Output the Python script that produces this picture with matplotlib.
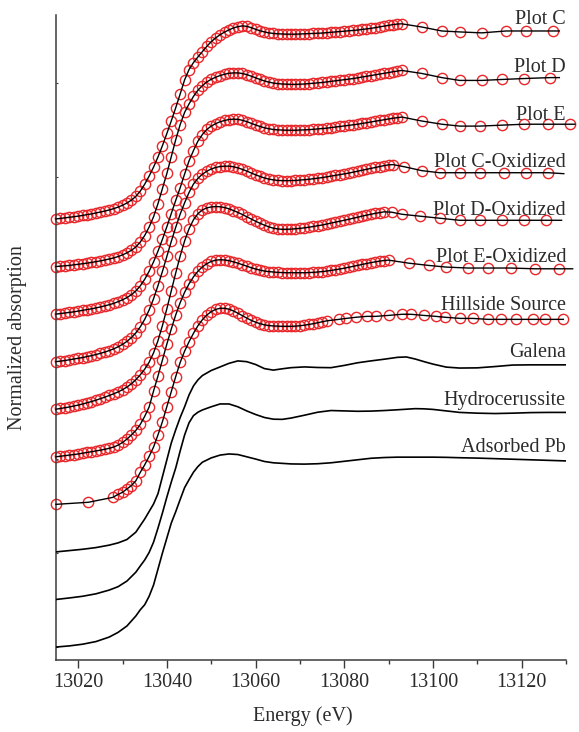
import numpy as np
import matplotlib
matplotlib.use("Agg")
import matplotlib.pyplot as plt
from matplotlib.ticker import MultipleLocator, NullFormatter

# ---------------- data ----------------
labels = ["Plot C", "Plot D", "Plot E", "Plot C-Oxidized", "Plot D-Oxidized",
          "Plot E-Oxidized", "Hillside Source", "Galena", "Hydrocerussite", "Adsorbed Pb"]
offsets = [2.277, 2.024, 1.771, 1.518, 1.265, 1.012, 0.759, 0.506, 0.253, 0.0]

# sample spectra (fit points shown as circles): dense part at 1 eV steps, then sparse tail
c_start = 13015
c_dense = [0.000, 0.003, 0.006, 0.009, 0.012, 0.015, 0.019, 0.023, 0.027, 0.032,
           0.037, 0.042, 0.048, 0.055, 0.063, 0.073, 0.085, 0.100, 0.120, 0.148,
           0.185, 0.228, 0.276, 0.330, 0.390, 0.455, 0.522, 0.592, 0.665, 0.740,
           0.795, 0.832, 0.862, 0.890, 0.918, 0.943, 0.963, 0.980, 0.994, 1.006,
           1.016, 1.023, 1.027, 1.025, 1.018, 1.009, 1.001, 0.995, 0.990, 0.987,
           0.985, 0.984, 0.983, 0.983, 0.983, 0.984, 0.985, 0.986, 0.987, 0.988,
           0.989, 0.991, 0.993, 0.995, 0.997, 0.999, 1.001, 1.003, 1.005, 1.008,
           1.011, 1.014, 1.018, 1.022, 1.026, 1.030, 1.034, 1.037, 1.038]
c_tail_e = [13097.5, 13102, 13106, 13111, 13116.5, 13121, 13127]
c_tail_v = [1.021, 1.000, 0.995, 0.990, 1.000, 1.000, 1.000]
c_end = (13128.5, 1.000)

d_start = 13015
d_dense = [0.000, 0.002, 0.004, 0.006, 0.009, 0.012, 0.015, 0.018, 0.022, 0.026,
           0.030, 0.035, 0.040, 0.046, 0.053, 0.062, 0.073, 0.086, 0.104, 0.130,
           0.165, 0.210, 0.265, 0.335, 0.415, 0.495, 0.585, 0.675, 0.755, 0.820,
           0.865, 0.905, 0.938, 0.962, 0.982, 0.996, 1.007, 1.016, 1.023, 1.028,
           1.030, 1.030, 1.027, 1.021, 1.013, 1.004, 0.995, 0.987, 0.981, 0.976,
           0.973, 0.971, 0.970, 0.969, 0.969, 0.970, 0.971, 0.973, 0.975, 0.977,
           0.979, 0.982, 0.985, 0.988, 0.991, 0.994, 0.997, 1.000, 1.004, 1.008,
           1.012, 1.016, 1.020, 1.024, 1.028, 1.032, 1.036, 1.040, 1.043]
d_tail_e = [13097.5, 13102, 13106, 13111, 13115.5, 13120.5, 13126.5]
d_tail_v = [1.027, 1.005, 0.990, 0.990, 0.995, 1.000, 1.005]
d_end = (13128.5, 1.005)

e_start = 13015
e_dense = [0.000, 0.003, 0.006, 0.009, 0.012, 0.016, 0.020, 0.024, 0.028, 0.033,
           0.038, 0.044, 0.050, 0.057, 0.066, 0.076, 0.088, 0.103, 0.123, 0.150,
           0.185, 0.228, 0.278, 0.335, 0.398, 0.465, 0.535, 0.605, 0.672, 0.745,
           0.815, 0.870, 0.920, 0.955, 0.982, 1.000, 1.013, 1.023, 1.030, 1.035,
           1.037, 1.036, 1.031, 1.024, 1.015, 1.006, 0.998, 0.991, 0.986, 0.982,
           0.980, 0.979, 0.978, 0.978, 0.978, 0.979, 0.980, 0.981, 0.983, 0.985,
           0.987, 0.989, 0.992, 0.995, 0.998, 1.001, 1.004, 1.007, 1.010, 1.014,
           1.018, 1.022, 1.026, 1.030, 1.034, 1.038, 1.042, 1.045, 1.048]
e_tail_e = [13097.5, 13102, 13106, 13110.5, 13115.5, 13120.5, 13126, 13131]
e_tail_v = [1.027, 1.010, 1.000, 1.000, 1.005, 1.010, 1.010, 1.010]
e_end = (13132, 1.010)

cox_start = 13015
cox_dense = [0.000, 0.003, 0.006, 0.010, 0.014, 0.018, 0.022, 0.027, 0.032, 0.038,
             0.044, 0.051, 0.059, 0.068, 0.079, 0.092, 0.108, 0.128, 0.153, 0.185,
             0.225, 0.275, 0.335, 0.405, 0.480, 0.560, 0.640, 0.715, 0.785, 0.845,
             0.900, 0.945, 0.975, 0.997, 1.013, 1.025, 1.033, 1.038, 1.040, 1.040,
             1.037, 1.031, 1.023, 1.014, 1.004, 0.994, 0.985, 0.977, 0.971, 0.967,
             0.964, 0.963, 0.963, 0.963, 0.964, 0.966, 0.968, 0.970, 0.973, 0.976,
             0.979, 0.983, 0.987, 0.991, 0.995, 0.999, 1.003, 1.008, 1.013, 1.018,
             1.023, 1.028, 1.033, 1.038, 1.043, 1.047, 1.048]
cox_tail_e = [13093.5, 13097.5, 13101.5, 13106, 13110.5, 13116, 13121, 13126]
cox_tail_v = [1.037, 1.016, 1.005, 1.005, 1.005, 1.005, 1.005, 1.005]
cox_end = (13129.5, 1.000)

dox_start = 13015
dox_dense = [0.000, 0.004, 0.008, 0.012, 0.017, 0.022, 0.028, 0.034, 0.041, 0.048,
             0.056, 0.064, 0.073, 0.082, 0.092, 0.104, 0.118, 0.135, 0.157, 0.183,
             0.213, 0.250, 0.300, 0.365, 0.445, 0.535, 0.630, 0.725, 0.815, 0.895,
             0.960, 1.008, 1.040, 1.060, 1.071, 1.076, 1.078, 1.077, 1.073, 1.066,
             1.057, 1.047, 1.036, 1.024, 1.012, 1.000, 0.989, 0.979, 0.970, 0.963,
             0.959, 0.957, 0.957, 0.958, 0.960, 0.962, 0.965, 0.968, 0.972, 0.976,
             0.980, 0.985, 0.990, 0.995, 1.000, 1.005, 1.010, 1.016, 1.021, 1.027,
             1.032, 1.037, 1.042, 1.046, 1.050]
dox_tail_e = [13090.7, 13093, 13097, 13101.5, 13106, 13110.5, 13115.5, 13120.5, 13125.5]
dox_tail_v = [1.048, 1.037, 1.027, 1.016, 1.005, 1.005, 1.005, 1.005, 1.005]
dox_end = (13129, 1.005)

eox_start = 13015
eox_dense = [0.000, 0.003, 0.006, 0.009, 0.012, 0.015, 0.019, 0.023, 0.027, 0.031,
             0.035, 0.040, 0.045, 0.052, 0.062, 0.076, 0.094, 0.116, 0.140, 0.172,
             0.215, 0.265, 0.350, 0.430, 0.515, 0.600, 0.680, 0.755, 0.820, 0.875,
             0.920, 0.957, 0.987, 1.010, 1.027, 1.039, 1.046, 1.048, 1.047, 1.043,
             1.037, 1.030, 1.022, 1.014, 1.006, 0.999, 0.993, 0.988, 0.985, 0.983,
             0.981, 0.980, 0.979, 0.979, 0.979, 0.979, 0.979, 0.980, 0.981, 0.983,
             0.985, 0.988, 0.991, 0.995, 0.999, 1.003, 1.008, 1.013, 1.018, 1.023,
             1.028, 1.033, 1.037, 1.041, 1.044, 1.046]
eox_tail_e = [13094.5, 13099, 13103, 13108, 13112.5, 13117.5, 13123, 13128.5]
eox_tail_v = [1.030, 1.018, 1.009, 1.004, 1.004, 1.004, 1.000, 1.000]
eox_end = (13131.5, 1.000)

hs_head_e = [13015, 13022.3, 13027.8]
hs_head_v = [0.000, 0.011, 0.037]
hs_start = 13029
hs_dense = [0.053, 0.064, 0.082, 0.100, 0.125, 0.170, 0.210, 0.255, 0.305, 0.370,
            0.440, 0.520, 0.600, 0.680, 0.755, 0.815, 0.865, 0.910, 0.950, 0.982,
            1.007, 1.025, 1.037, 1.043, 1.043, 1.038, 1.029, 1.017, 1.004, 0.991,
            0.979, 0.969, 0.961, 0.955, 0.951, 0.949, 0.948, 0.947, 0.947, 0.947,
            0.948, 0.950, 0.953, 0.957, 0.961, 0.966, 0.971, 0.976]
hs_tail_e = [13078.8, 13080.4, 13082.6, 13085.1, 13087.1, 13090, 13093, 13095, 13097.9,
             13100.6, 13102.8, 13106.2, 13109, 13112.4, 13115.4, 13118.7, 13122.5,
             13125.2, 13129.4]
hs_tail_v = [0.984, 0.989, 0.995, 1.000, 1.000, 1.005, 1.011, 1.011, 1.005,
             1.000, 0.995, 0.989, 0.989, 0.984, 0.984, 0.984, 0.984, 0.984, 0.984]

# reference spectra (lines only)
ref_e = [13015, 13018, 13021, 13024, 13027, 13029, 13031, 13033, 13034, 13035, 13036,
         13037, 13038, 13039, 13040, 13041, 13042, 13043, 13044, 13045, 13046, 13047,
         13048, 13050, 13052, 13054, 13056, 13058, 13060, 13062, 13064, 13066, 13068,
         13071, 13074, 13077, 13080, 13083, 13086, 13089, 13092, 13094, 13096, 13098,
         13100, 13103, 13106, 13110, 13114, 13118, 13122, 13126, 13130]
galena = [0.000, 0.007, 0.014, 0.023, 0.036, 0.048, 0.066, 0.105, 0.140, 0.175, 0.215,
          0.255, 0.310, 0.400, 0.490, 0.580, 0.650, 0.715, 0.772, 0.835, 0.883, 0.915,
          0.938, 0.965, 0.984, 1.003, 1.016, 1.012, 0.997, 0.975, 0.967, 0.974, 0.980,
          0.984, 0.981, 0.980, 0.992, 1.006, 1.016, 1.025, 1.035, 1.037, 1.026, 1.012,
          0.999, 0.983, 0.978, 0.979, 0.986, 0.994, 0.995, 0.995, 0.995]
hydrocerussite = [0.000, 0.008, 0.017, 0.030, 0.050, 0.068, 0.098, 0.145, 0.178, 0.210,
                  0.250, 0.305, 0.380, 0.460, 0.545, 0.625, 0.700, 0.790, 0.875, 0.940,
                  0.978, 0.996, 1.008, 1.025, 1.040, 1.040, 1.025, 1.003, 0.984, 0.968,
                  0.959, 0.958, 0.965, 0.980, 0.996, 1.005, 1.003, 1.001, 1.002, 1.005,
                  1.009, 1.012, 1.015, 1.014, 1.011, 1.003, 0.995, 0.991, 0.989, 0.991,
                  0.994, 0.995, 0.995]
adsorbed = [0.000, 0.006, 0.015, 0.029, 0.053, 0.078, 0.112, 0.165, 0.198, 0.225, 0.270,
            0.330, 0.415, 0.500, 0.580, 0.660, 0.720, 0.785, 0.848, 0.890, 0.930, 0.960,
            0.983, 1.006, 1.021, 1.027, 1.024, 1.012, 1.000, 0.987, 0.980, 0.977, 0.974,
            0.973, 0.975, 0.980, 0.988, 0.996, 1.004, 1.008, 1.010, 1.010, 1.010, 1.010,
            1.010, 1.009, 1.007, 1.005, 1.002, 0.999, 0.996, 0.993, 0.990]

xticks = [13020, 13040, 13060, 13080, 13100, 13120]

# ---------------- plotting ----------------
plt.rcParams['font.family'] = ['Liberation Serif', 'DejaVu Serif']
TXT = '#2b2b2b'
RED = '#e8272b'

fig = plt.figure(figsize=(5.79, 7.32), dpi=100)
ax = fig.add_axes([56 / 579, 72 / 732, 510 / 579, 645 / 732])


def sample(i, start, dense, tail_e, tail_v, end=None, head_e=None, head_v=None):
    e = list(np.arange(start, start + len(dense), dtype=float))
    v = list(dense)
    if head_e is not None:
        e = list(head_e) + e
        v = list(head_v) + v
    e = e + list(tail_e)
    v = v + list(tail_v)
    y = np.array(v) + offsets[i]
    ax.plot(e, y, linestyle='none', marker='o', ms=7.4, mfc='none', mec=RED,
            mew=1.0, clip_on=False, zorder=2)
    if end is not None:
        e = e + [end[0]]
        y = np.append(y, end[1] + offsets[i])
    ax.plot(e, y, color='black', lw=1.0, clip_on=False, zorder=3)


sample(0, c_start, c_dense, c_tail_e, c_tail_v, c_end)
sample(1, d_start, d_dense, d_tail_e, d_tail_v, d_end)
sample(2, e_start, e_dense, e_tail_e, e_tail_v, e_end)
sample(3, cox_start, cox_dense, cox_tail_e, cox_tail_v, cox_end)
sample(4, dox_start, dox_dense, dox_tail_e, dox_tail_v, dox_end)
sample(5, eox_start, eox_dense, eox_tail_e, eox_tail_v, eox_end)
sample(6, hs_start, hs_dense, hs_tail_e, hs_tail_v, None, hs_head_e, hs_head_v)

for i, ref in zip([7, 8, 9], [galena, hydrocerussite, adsorbed]):
    ax.plot(ref_e, np.array(ref) + offsets[i], color='black', lw=1.2, zorder=3)

for i, lab in enumerate(labels):
    ax.text(13130, offsets[i] + 1.035, lab, ha='right', va='baseline',
            fontsize=14.5, color=TXT)

ax.set_xlim(13015, 13130)
ax.set_ylim(-0.069, 3.362)
for s in ['top', 'right']:
    ax.spines[s].set_visible(False)
for s in ['left', 'bottom']:
    ax.spines[s].set_color('#3a3a3a')
    ax.spines[s].set_linewidth(1.1)

ax.set_xticks(xticks)
ax.set_xticklabels([str(t) for t in xticks])
ax.xaxis.set_minor_locator(MultipleLocator(10))
ax.tick_params(axis='x', which='major', direction='out', length=5.5, width=1.0,
               colors='#3a3a3a', labelcolor=TXT, labelsize=14.5, pad=4)
ax.tick_params(axis='x', which='minor', direction='out', length=3, width=1.0,
               colors='#3a3a3a')
ax.yaxis.set_major_locator(MultipleLocator(0.5))
ax.yaxis.set_major_formatter(NullFormatter())
ax.tick_params(axis='y', which='major', direction='in', length=1.5, width=0.8,
               colors='#3a3a3a')

fig.text(303 / 579, 1 - 716 / 732, 'Energy (eV)', ha='center', va='center',
         fontsize=14.5, color=TXT)
fig.text(18 / 579, 1 - 338 / 732, 'Normalized absorption', ha='center', va='center',
         rotation=90, fontsize=14.5, color=TXT)

fig.savefig('out.png', dpi=100)
